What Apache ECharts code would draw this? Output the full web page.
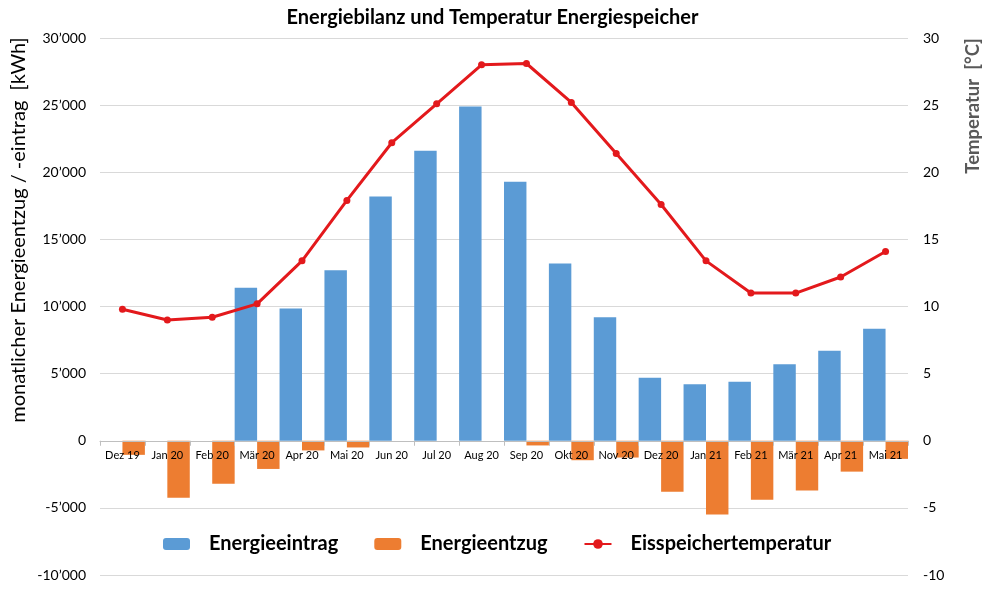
<!DOCTYPE html>
<html>
<head>
<meta charset="utf-8">
<script src="https://cdn.jsdelivr.net/npm/echarts@6/dist/echarts.min.js"></script>
<style>
  html, body { margin: 0; padding: 0; background: #fff; }
  #chart { width: 985px; height: 591px; }
</style>
</head>
<body>
<div id="chart"></div>
<script>
// monthly values
const months = ['Dez 19', 'Jan 20', 'Feb 20', 'Mär 20', 'Apr 20', 'Mai 20', 'Jun 20', 'Jul 20', 'Aug 20',
  'Sep 20', 'Okt 20', 'Nov 20', 'Dez 20', 'Jan 21', 'Feb 21', 'Mär 21', 'Apr 21', 'Mai 21'];
const eintrag = [0, 0, 0, 11400, 9850, 12700, 18200, 21600, 24900,
  19300, 13200, 9200, 4700, 4200, 4400, 5700, 6700, 8350];
const entzug = [-1050, -4250, -3200, -2100, -720, -500, 0, 0, 0,
  -350, -1450, -1250, -3800, -5500, -4400, -3700, -2300, -1350];
const temperatur = [9.8, 9.0, 9.2, 10.2, 13.4, 17.9, 22.2, 25.1, 28.0,
  28.1, 25.2, 21.4, 17.6, 13.4, 11.0, 11.0, 12.2, 14.1];

const font = 'Lato, "Open Sans", sans-serif';

const yMin = -10000;
const yMax = 30000;
const gridTop = 38;
const gridBottom = 16;
const chartHeight = 591;

// 30000 -> 30’000
function kwhLabel(v) {
  const s = String(Math.abs(v)).replace(/\B(?=(\d{3})+(?!\d))/g, '\u2019');
  return (v < 0 ? '-' : '') + s;
}

// onZero did not move the labels, so lift the category axis up to the 0 line
const plotH = chartHeight - gridTop - gridBottom;
const zeroLift = plotH * (0 - yMin) / (yMax - yMin);

const chart = echarts.init(document.getElementById('chart'));

const option = {
  animation: false,
  textStyle: { fontFamily: font },
  title: {
    text: 'Energiebilanz und Temperatur Energiespeicher',
    left: 'center',
    top: 3,
    textStyle: { fontFamily: font, fontSize: 20, fontWeight: 'bold', color: '#000' }
  },
  legend: {
    left: 158,
    top: 529,
    itemWidth: 27,
    itemHeight: 12,
    itemGap: 36,
    textStyle: { fontFamily: font, fontSize: 20, fontWeight: 'bold', color: '#000', padding: [0, 0, 0, 14] },
    data: ['Energieeintrag', 'Energieentzug', 'Eisspeichertemperatur']
  },
  grid: {
    left: 100,
    right: 77,
    top: gridTop,
    bottom: gridBottom
  },
  xAxis: {
    type: 'category',
    data: months,
    position: 'bottom',
    offset: -zeroLift,
    z: 5,
    axisLine: { onZero: false, lineStyle: { color: '#bfbfbf' } },
    axisTick: { show: true, length: 5, lineStyle: { color: '#bfbfbf' } },
    axisLabel: { color: '#000', fontSize: 11, margin: 9, interval: 0 },
    splitLine: { show: false }
  },
  yAxis: [
    {
      type: 'value',
      min: yMin,
      max: yMax,
      interval: 5000,
      axisLine: { show: false },
      axisTick: { show: false },
      axisLabel: { color: '#000', fontSize: 14, margin: 14, formatter: kwhLabel },
      splitLine: { lineStyle: { color: '#d9d9d9' } }
    },
    {
      type: 'value',
      min: -10,
      max: 30,
      interval: 5,
      position: 'right',
      axisLine: { show: false },
      axisTick: { show: false },
      axisLabel: { color: '#000', fontSize: 14, margin: 15 },
      splitLine: { show: false }
    }
  ],
  graphic: [
    {
      type: 'text',
      x: 19,
      y: 230,
      rotation: Math.PI / 2,
      style: {
        text: 'monatlicher Energieentzug / -eintrag  [kWh]',
        font: '20px ' + font,
        fill: '#000',
        textAlign: 'center',
        textVerticalAlign: 'middle'
      }
    },
    {
      type: 'text',
      x: 973,
      y: 106,
      rotation: Math.PI / 2,
      style: {
        text: 'Temperatur  [°C]',
        font: 'bold 18.5px ' + font,
        fill: '#595959',
        textAlign: 'center',
        textVerticalAlign: 'middle'
      }
    }
  ],
  series: [
    {
      name: 'Energieeintrag',
      type: 'bar',
      data: eintrag,
      barGap: '0%',
      barCategoryGap: '0%',
      itemStyle: { color: '#5b9bd5' }
    },
    {
      name: 'Energieentzug',
      type: 'bar',
      data: entzug,
      itemStyle: { color: '#ed7d31' }
    },
    {
      name: 'Eisspeichertemperatur',
      type: 'line',
      yAxisIndex: 1,
      data: temperatur,
      symbol: 'circle',
      symbolSize: 7,
      z: 10,
      lineStyle: { color: '#e3191c', width: 3 },
      itemStyle: { color: '#e3191c' }
    }
  ]
};

chart.setOption(option);
</script>
</body>
</html>
